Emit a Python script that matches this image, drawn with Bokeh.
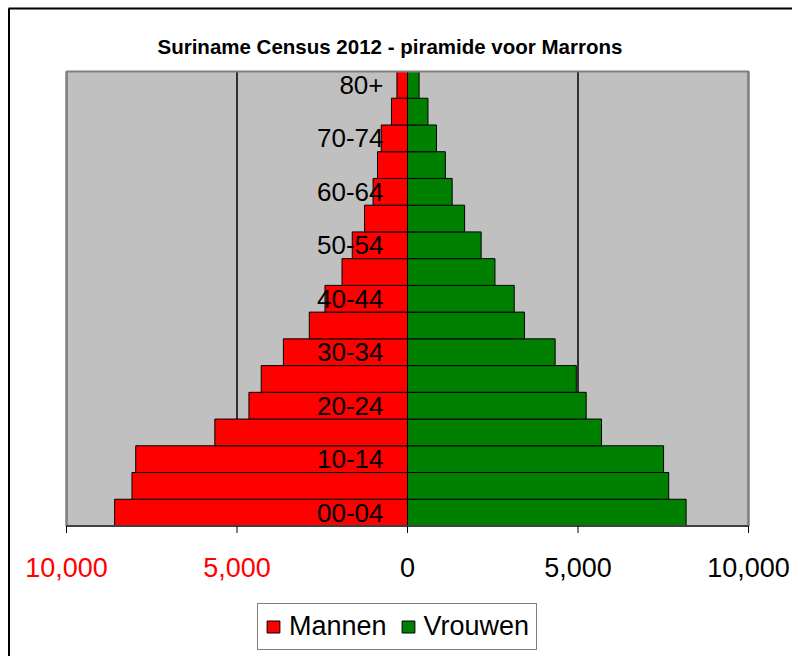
from bokeh.plotting import figure
from bokeh.models import (ColumnDataSource, Range1d, LabelSet, Label,
                          Legend, LegendItem)
from bokeh.core.properties import value
from bokeh.embed import file_html
from bokeh.resources import INLINE

# ---------------- data ----------------
age_groups = ["00-04", "05-09", "10-14", "15-19", "20-24", "25-29", "30-34",
              "35-39", "40-44", "45-49", "50-54", "55-59", "60-64", "65-69",
              "70-74", "75-79", "80+"]
mannen = [8590, 8080, 7970, 5650, 4650, 4290, 3640, 2880, 2420, 1920,
          1620, 1260, 1010, 880, 770, 470, 310]
vrouwen = [8170, 7660, 7510, 5690, 5240, 4950, 4330, 3430, 3130, 2565,
           2160, 1675, 1310, 1110, 850, 600, 340]
shown_labels = ["00-04", "10-14", "20-24", "30-34", "40-44", "50-54",
                "60-64", "70-74", "80+"]
tick_values = [-10000, -5000, 0, 5000, 10000]
tick_labels = ["10,000", "5,000", "0", "5,000", "10,000"]
tick_colors = ["#FF0000", "#FF0000", "#000000", "#000000", "#000000"]
title_text = "Suriname Census 2012 - piramide voor Marrons"

# ---------------- layout (pixels) ----------------
W, H = 792, 656
PLOT_L, PLOT_R, PLOT_T, PLOT_B = 66, 748, 71, 525.5
XMIN, XMAX = -10000, 10000
n = len(age_groups)
YMIN, YMAX = -0.5, n - 0.5

ppx = (PLOT_R - PLOT_L) / (XMAX - XMIN)
ppy = (PLOT_B - PLOT_T) / (YMAX - YMIN)


def xd(px):
    return XMIN + (px - PLOT_L) / ppx


def yd(py):
    return YMIN + (PLOT_B - py) / ppy


FONT = "Liberation Sans"

ypos = list(range(n))
idx = {a: i for i, a in enumerate(age_groups)}

src = ColumnDataSource(dict(
    y=ypos,
    m_left=[-v for v in mannen],
    zero=[0] * n,
    v_right=vrouwen,
))

p = figure(width=W, height=H, output_backend="svg", toolbar_location=None,
           x_range=Range1d(xd(0), xd(W)), y_range=Range1d(yd(H), yd(0)),
           x_axis_type=None, y_axis_type=None,
           min_border=0, min_border_left=0, min_border_right=0,
           min_border_top=0, min_border_bottom=0)
p.outline_line_color = None
p.background_fill_color = "#FFFFFF"
p.border_fill_color = "#FFFFFF"
p.grid.visible = False

# outer chart border (top and left edges)
p.segment(x0=[xd(8), xd(8.5)], y0=[yd(8), yd(8)],
          x1=[xd(W), xd(8.5)], y1=[yd(8), yd(H)],
          line_color="#000000", line_width=2)

# plot area
p.quad(left=[XMIN], right=[XMAX], bottom=[YMIN], top=[YMAX],
       fill_color="#C0C0C0", line_color=None)

# vertical gridlines
p.segment(x0=tick_values, x1=tick_values, y0=[YMIN] * len(tick_values),
          y1=[YMAX] * len(tick_values), line_color="#000000", line_width=1.5)

r_m = p.hbar(y="y", left="m_left", right="zero", height=1.0, source=src,
             fill_color="#FF0000", line_color="#000000", line_width=1)
r_v = p.hbar(y="y", left="zero", right="v_right", height=1.0, source=src,
             fill_color="#008000", line_color="#000000", line_width=1)

# plot area border
p.quad(left=[XMIN], right=[XMAX], bottom=[YMIN], top=[YMAX],
       fill_color=None, line_color="#808080", line_width=2)

# x axis line and ticks
p.segment(x0=[XMIN], x1=[XMAX], y0=[YMIN], y1=[YMIN],
          line_color="#000000", line_width=1)
p.segment(x0=tick_values, x1=tick_values, y0=[YMIN] * len(tick_values),
          y1=[yd(PLOT_B + 7)] * len(tick_values),
          line_color="#000000", line_width=1)

# category labels drawn at the zero line, on top of the bars
lab_src = ColumnDataSource(dict(y=[idx[a] for a in shown_labels],
                                x=[0] * len(shown_labels),
                                text=shown_labels))
p.text(x="x", y="y", text="text", source=lab_src, x_offset=-24,
       text_align="right", text_baseline="middle",
       text_font=value(FONT), text_font_size="26px", text_color="#000000")

# x tick labels
tick_src = ColumnDataSource(dict(x=tick_values, text=tick_labels,
                                 color=tick_colors,
                                 y=[yd(576)] * len(tick_values)))
p.add_layout(LabelSet(x="x", y="y", text="text", text_color="color",
                      source=tick_src, text_align="center",
                      text_baseline="alphabetic",
                      text_font=value(FONT), text_font_size="27px"))

# title
p.add_layout(Label(x=xd(157), y=yd(46), text=title_text,
                   text_align="left", text_baseline="alphabetic",
                   text_font=FONT, text_font_size="20.5px",
                   text_font_style="bold", text_color="#000000"))

# legend
legend = Legend(items=[LegendItem(label="Mannen", renderers=[r_m]),
                       LegendItem(label="Vrouwen", renderers=[r_v])],
                location=(257, H - 650), orientation="horizontal",
                label_text_font=FONT, label_text_font_size="27px",
                label_text_color="#000000",
                glyph_width=16, glyph_height=15, label_standoff=8,
                spacing=13, padding=7, margin=0,
                border_line_color="#000000", border_line_width=1,
                background_fill_color="#FFFFFF", background_fill_alpha=1.0)
p.add_layout(legend, "center")

open("out.html", "w").write(file_html(p, INLINE))
